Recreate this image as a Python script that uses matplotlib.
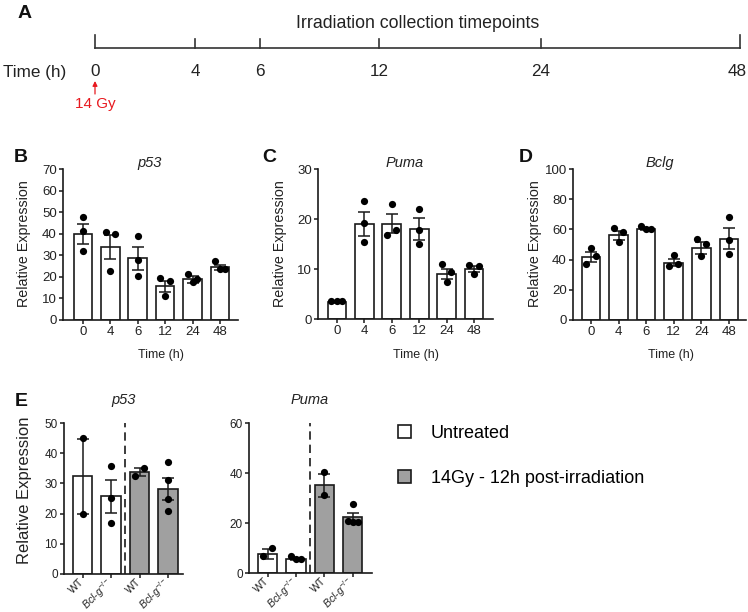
import matplotlib

matplotlib.use("Agg")
import matplotlib.pyplot as plt
import numpy as np
from matplotlib.patches import Patch

plt.rcParams["font.family"] = ["Liberation Sans", "DejaVu Sans"]
plt.rcParams["mathtext.fontset"] = "custom"
plt.rcParams["mathtext.rm"] = "Liberation Sans"
plt.rcParams["mathtext.it"] = "Liberation Sans:italic"

W, H = 748, 612
EDGE = "#1a1a1a"
GREY = "#a0a0a0"

# ---- data ----
TIMEPOINTS = ["0", "4", "6", "12", "24", "48"]

P53_MEAN = [39.8, 33.9, 28.6, 15.7, 18.8, 24.4]
P53_SEM = [4.6, 5.4, 5.3, 2.6, 1.5, 1.3]
P53_PTS = [[47.8, 41.3, 32.0], [40.8, 39.8, 22.8], [38.8, 28.0, 20.3],
           [19.4, 18.0, 11.2], [21.3, 17.6, 19.0], [27.5, 23.6, 23.6]]

PUMA_MEAN = [3.4, 19.1, 19.1, 18.1, 9.1, 10.0]
PUMA_SEM = [0.15, 2.4, 1.9, 2.2, 1.0, 0.65]
PUMA_PTS = [[3.6, 3.6, 3.6], [23.6, 19.3, 15.5], [23.1, 17.9, 16.9],
            [22.1, 17.9, 15.1], [11.1, 9.5, 7.5], [10.9, 10.6, 9.1]]

BCLG_MEAN = [41.9, 56.1, 60.3, 37.9, 47.9, 53.9]
BCLG_SEM = [3.3, 2.9, 0.7, 2.4, 3.9, 7.2]
BCLG_PTS = [[47.9, 42.1, 37.3], [61.0, 58.1, 51.7], [62.3, 60.1, 60.3],
            [43.0, 35.7, 36.8], [53.9, 50.3, 42.1], [68.3, 52.8, 43.5]]

GENOTYPES = ["WT", r"$Bcl$-$g^{-/-}$", "WT", r"$Bcl$-$g^{-/-}$"]
E_P53_MEAN = [32.4, 25.7, 33.7, 28.2]
E_P53_SEM = [12.45, 5.4, 1.4, 3.7]
E_P53_PTS = [[44.9, 20.0], [35.9, 25.1, 16.9], [32.4, 35.2], [37.0, 31.2, 25.0, 21.0]]

E_PUMA_MEAN = [7.7, 5.5, 35.2, 22.3]
E_PUMA_SEM = [1.9, 0.4, 4.6, 1.8]
E_PUMA_PTS = [[6.7, 9.9], [6.9, 5.5, 5.5], [40.4, 31.2], [27.5, 20.9, 20.4, 20.4]]

# horizontal scatter of the dots (layout only)
P53_JIT = [[0, 0, 0], [-.17, .17, 0], [0, 0, 0], [-.17, .17, 0], [-.17, 0, .17], [-.17, 0, .17]]
PUMA_JIT = [[-.2, 0, .2], [0, 0, 0], [0, .15, -.17], [0, 0, 0], [-.17, .17, 0], [-.18, .18, 0]]
BCLG_JIT = [[0, .17, -.17], [-.17, .17, 0], [-.17, 0, .17], [0, -.17, .17], [-.17, .17, 0], [0, 0, 0]]
E_P53_JIT = [[0, 0], [0, 0, 0], [-.16, .16], [0, 0, 0, 0]]
E_PUMA_JIT = [[-.16, .16], [-.19, 0, .16], [0, 0], [0, -.17, 0, .17]]

# schematic positions of the collection timepoints along the panel A line (pixels)
TIMELINE_PX = [95, 195, 260, 379, 541, 740]


def px_axes(fig, left, top, right, bottom):
    return fig.add_axes([left / W, 1 - bottom / H, (right - left) / W, (bottom - top) / H])


def ftext(fig, x, y, s, **kw):
    return fig.text(x / W, 1 - y / H, s, **kw)


def bar_panel(ax, means, sems, pts, jit, colors, ymax, ystep, xlim, tick_size):
    x = np.arange(len(means))
    ax.bar(x, means, width=0.68, color=colors, edgecolor=EDGE, linewidth=1.2, zorder=2)
    ax.errorbar(x, means, yerr=sems, fmt="none", ecolor=EDGE, elinewidth=1.1,
                capsize=4, capthick=1.1, zorder=3)
    for xi, p, j in zip(x, pts, jit):
        ax.plot(xi + np.array(j), p, "o", color="black", ms=5.2, mew=0, zorder=4, clip_on=False)
    ax.set_ylim(0, ymax)
    ax.set_yticks(np.arange(0, ymax + 0.1, ystep))
    ax.set_xlim(*xlim)
    ax.set_xticks(x)
    for s in ("top", "right"):
        ax.spines[s].set_visible(False)
    for s in ("left", "bottom"):
        ax.spines[s].set_linewidth(1.2)
        ax.spines[s].set_color(EDGE)
    ax.tick_params(length=3, width=1.1, color=EDGE, labelsize=tick_size, pad=1.5,
                   labelcolor="#222222")


fig = plt.figure(figsize=(W / 100, H / 100), dpi=100)

# ---- panel A: timeline ----
axA = fig.add_axes([0, 0, 1, 1])
axA.set_xlim(0, W)
axA.set_ylim(H, 0)
axA.axis("off")
line_y = 48
axA.plot([TIMELINE_PX[0], TIMELINE_PX[-1]], [line_y, line_y], color="#333333", lw=1.2)
for i, (xp, lab) in enumerate(zip(TIMELINE_PX, TIMEPOINTS)):
    top = line_y - 13 if i in (0, len(TIMEPOINTS) - 1) else line_y - 9
    axA.plot([xp, xp], [top, line_y], color="#333333", lw=1.2)
    lx = min(xp, W - 11)
    axA.text(lx, 72, lab, ha="center", va="center", fontsize=12.3, color="#222222")
axA.text(66, 72, "Time (h)", ha="right", va="center", fontsize=12.3, color="#222222")
axA.text(418, 23, "Irradiation collection timepoints", ha="center", va="center",
         fontsize=12.8, color="#222222")
axA.annotate("", xy=(TIMELINE_PX[0], 81), xytext=(TIMELINE_PX[0], 94),
             arrowprops=dict(arrowstyle="-|>", color="#e8191f", lw=0.9,
                             mutation_scale=7, shrinkA=0, shrinkB=0))
axA.text(TIMELINE_PX[0], 104, "14 Gy", ha="center", va="center", fontsize=11, color="#e8191f")

# ---- panels B-D ----
axB = px_axes(fig, 63, 169, 238, 320)
bar_panel(axB, P53_MEAN, P53_SEM, P53_PTS, P53_JIT, "white", 70, 10, (-0.73, 5.66), 9.5)
axC = px_axes(fig, 318, 169, 493, 319)
bar_panel(axC, PUMA_MEAN, PUMA_SEM, PUMA_PTS, PUMA_JIT, "white", 30, 10, (-0.69, 5.69), 9.5)
axD = px_axes(fig, 573, 169, 746, 320)
bar_panel(axD, BCLG_MEAN, BCLG_SEM, BCLG_PTS, BCLG_JIT, "white", 100, 20, (-0.65, 5.62), 9.5)

for ax, title, cx, ylx in ((axB, "p53", 150, 24), (axC, "Puma", 405, 280), (axD, "Bclg", 660, 535)):
    ax.set_xticklabels(TIMEPOINTS)
    ftext(fig, cx, 167, title, ha="center", va="baseline", fontsize=10.5, style="italic",
          color="#222222")
    ftext(fig, cx + 11, 355, "Time (h)", ha="center", va="center", fontsize=9, color="#222222")
    ftext(fig, ylx, 244, "Relative Expression", ha="center", va="center", rotation=90,
          fontsize=10.3, color="#222222")

# ---- panel E ----
e_colors = ["white", "white", GREY, GREY]
axEL = px_axes(fig, 64, 423, 183, 574)
bar_panel(axEL, E_P53_MEAN, E_P53_SEM, E_P53_PTS, E_P53_JIT, e_colors, 50, 10, (-0.66, 3.53), 8.5)
axER = px_axes(fig, 249, 423, 372, 573)
bar_panel(axER, E_PUMA_MEAN, E_PUMA_SEM, E_PUMA_PTS, E_PUMA_JIT, e_colors, 60, 20, (-0.66, 3.68), 8.5)

for ax, title, cx, top in ((axEL, "p53", 124, 50), (axER, "Puma", 310, 60)):
    ax.set_xticklabels(GENOTYPES, rotation=45, ha="right", va="center",
                       rotation_mode="anchor", fontsize=7.6)
    ax.tick_params(axis="x", pad=1.5)
    ax.plot([1.5, 1.5], [0, top], color=EDGE, lw=1.2, ls=(0, (5, 3)), zorder=1)
    ftext(fig, cx, 404, title, ha="center", va="baseline", fontsize=10.5, style="italic",
          color="#222222")
ftext(fig, 25, 490, "Relative Expression", ha="center", va="center", rotation=90,
      fontsize=12, color="#222222")

handles = [Patch(facecolor="white", edgecolor=EDGE, linewidth=1.2),
           Patch(facecolor=GREY, edgecolor=EDGE, linewidth=1.2)]
fig.legend(handles, ["Untreated", "14Gy - 12h post-irradiation"], loc="upper left",
           bbox_to_anchor=(398 / W, 1 - 425 / H), frameon=False, fontsize=13,
           handlelength=0.72, handleheight=0.72, handletextpad=1.1, labelspacing=1.55,
           borderaxespad=0, borderpad=0)

# ---- panel letters ----
for lab, x, y in (("A", 18, 14), ("B", 14, 157), ("C", 262, 157), ("D", 519, 157), ("E", 15, 402)):
    ftext(fig, x, y, lab, ha="left", va="center", fontsize=14, weight="bold", color="#111111")

fig.savefig("out.png", dpi=100)
